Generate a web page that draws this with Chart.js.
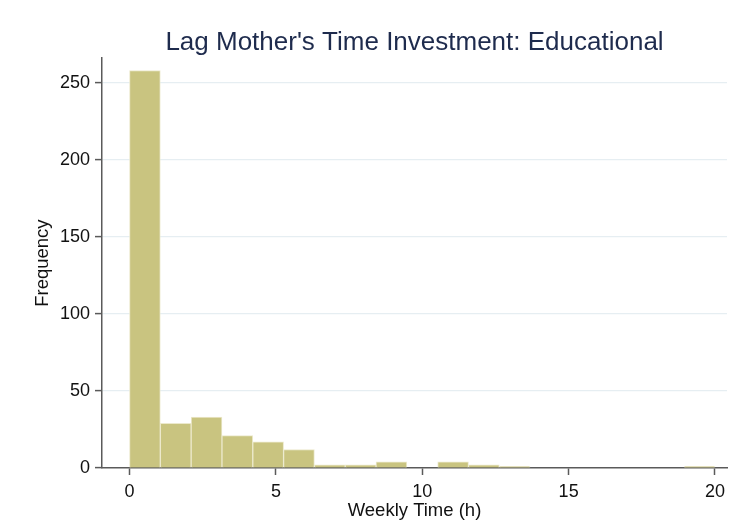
<!DOCTYPE html>
<html>
<head>
<meta charset="utf-8">
<script src="https://cdn.jsdelivr.net/npm/chart.js@4/dist/chart.umd.min.js"></script>
<style>
  html,body{margin:0;padding:0;background:#fff;}
  #wrap{width:737px;height:522px;}
</style>
</head>
<body>
<div id="wrap"><canvas id="c" width="737" height="522"></canvas></div>
<script>
// ---------------- DATA ----------------
const binCenters=[0.526,1.579,2.632,3.684,4.737,5.789,6.842,7.895,8.947,10.0,11.053,12.105,13.158,14.211,15.263,16.316,17.368,18.421,19.474];
const binCounts=[258,29,33,21,17,12,2,2,4,0,4,2,1,0,0,0,0,0,1];
const xTicks=[0,5,10,15,20];
const yTicks=[0,50,100,150,200,250];
const titleText="Lag Mother's Time Investment: Educational";
const xTitle="Weekly Time (h)";
const yTitle="Frequency";

const axisColor='#5a5a5a';
const font='"Liberation Sans", Arial, sans-serif';

const points=binCenters.map((x,i)=>({x:x,y:binCounts[i]}));

new Chart(document.getElementById("c").getContext("2d"),{
  type:'bar',
  data:{
    datasets:[{
      data:points,
      backgroundColor:'#c9c480',
      borderColor:'#ece9cc',
      borderWidth:1,
      barPercentage:1,
      categoryPercentage:1
    }]
  },
  options:{
    responsive:false,
    animation:false,
    layout:{padding:{left:20,right:10,top:0,bottom:0}},
    plugins:{
      legend:{display:false},
      tooltip:{enabled:false},
      title:{
        display:true,text:titleText,fullSize:false,
        color:'#1e2b4d',font:{family:font,size:26,weight:'normal'},
        padding:{top:27,bottom:0}
      }
    },
    scales:{
      x:{
        type:'linear',min:-0.94,max:20.41,offset:false,
        afterBuildTicks:s=>{s.ticks=xTicks.map(v=>({value:v}));},
        afterFit:s=>{s.height=54;},
        ticks:{color:'#111',font:{family:font,size:18},padding:6,maxRotation:0},
        grid:{offset:false,drawOnChartArea:false,drawTicks:true,tickLength:7,tickColor:axisColor,tickWidth:1.5},
        border:{display:true,color:axisColor,width:1.5},
        title:{display:true,text:xTitle,color:'#111',font:{family:font,size:18.5},padding:{top:0,bottom:0}}
      },
      y:{
        min:0,max:266,
        afterBuildTicks:s=>{s.ticks=yTicks.map(v=>({value:v}));},
        afterFit:s=>{s.width=82;},
        ticks:{color:'#111',font:{family:font,size:18},padding:5},
        grid:{
          color:c=>c.tick&&c.tick.value===0?'rgba(0,0,0,0)':'#e6eef2',
          lineWidth:1.2,drawTicks:true,tickLength:7,tickColor:axisColor,tickWidth:1.5
        },
        border:{display:true,color:axisColor,width:1.5},
        title:{display:true,text:yTitle,color:'#111',font:{family:font,size:18.5},padding:{top:12,bottom:0}}
      }
    }
  }
});
</script>
</body>
</html>
